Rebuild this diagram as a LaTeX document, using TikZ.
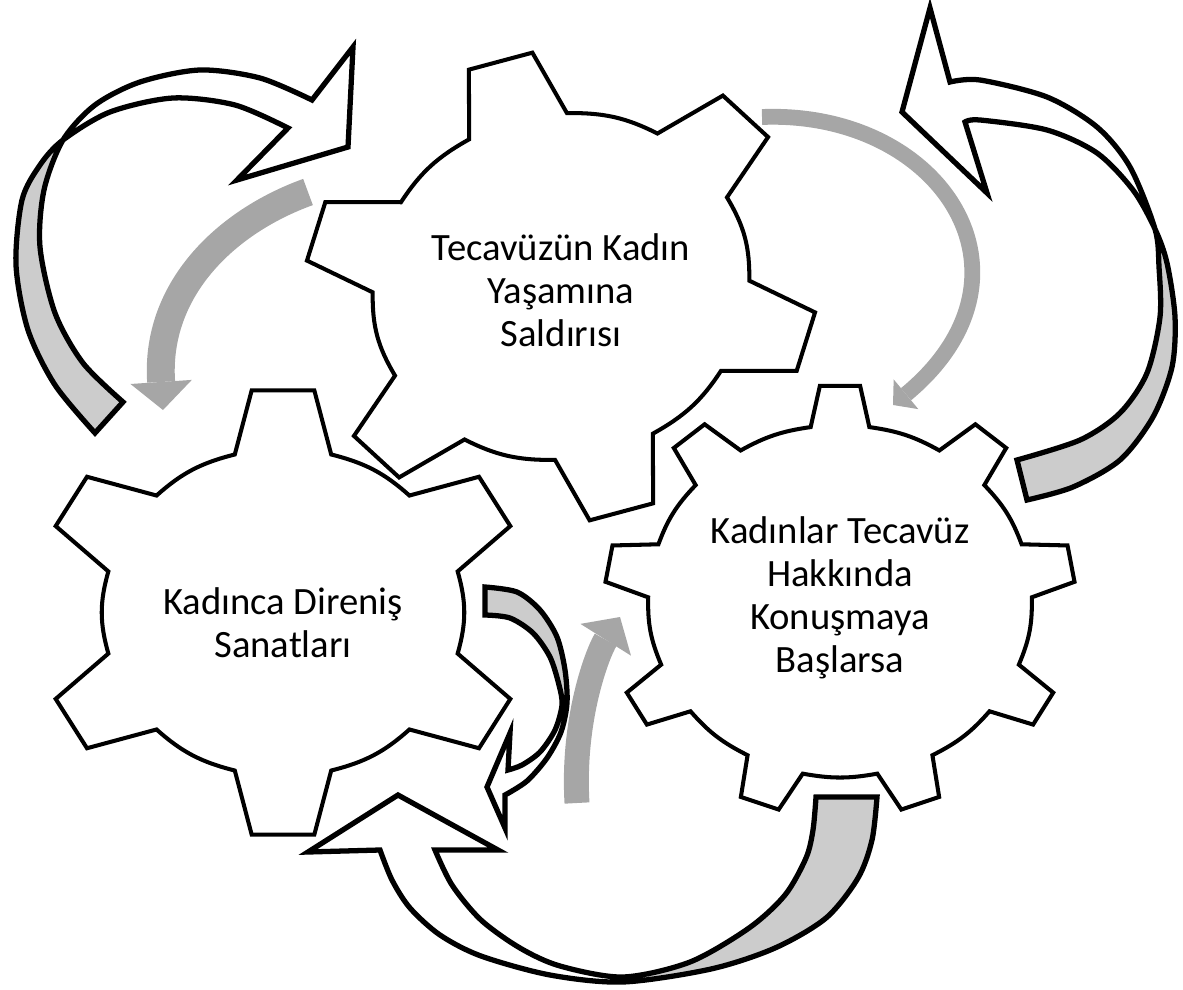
\documentclass[tikz,border=0pt]{standalone}
\usepackage{fontspec}
\setmainfont{Carlito}
\usetikzlibrary{arrows.meta}
\definecolor{facegray}{RGB}{204,204,204}
\definecolor{flowgray}{RGB}{166,166,166}

\begin{document}
\begin{tikzpicture}[
    x=0.02cm, y=-0.02cm,
    gear/.style={
        draw=black, fill=white, line width=2.3pt
    },
    twist/.style={
        draw=black, fill=white, line width=3pt,
        path picture={\fill[facegray] #1;}
    },
    flow/.style={
        draw=flowgray, line width=#1
    },
    l/.style={
        align=center, font=\fontsize{22}{24.5}\selectfont
    }
]
    \useasboundingbox (0,0) rectangle (1183,990);

    \coordinate (attackc) at (561,286.5);
    \coordinate (resistc) at (283,612.5);
    \coordinate (speakc) at (840,601);

    % six teeth, left
    \begin{scope}[shift={(resistc)}, xscale=1.1]
        \draw[gear] (-74.5:164) \foreach \t in {90,150,...,390} {
            -- ({-(\t-15.5)}:164) -- ({-(\t-7.3)}:224) -- ({-(\t+7.3)}:224)
            -- ({-(\t+15.5)}:164) to[bend right=14.5] ({-(\t+44.5)}:164)
        } -- cycle;
    \end{scope}
    % six teeth, top, turned
    \begin{scope}[shift={(attackc)}, rotate=15, scale=1.05, xscale=1.1]
        \draw[gear] (-74.5:164) \foreach \t in {90,150,...,390} {
            -- ({-(\t-15.5)}:164) -- ({-(\t-7.3)}:224) -- ({-(\t+7.3)}:224)
            -- ({-(\t+15.5)}:164) to[bend right=14.5] ({-(\t+44.5)}:164)
        } -- cycle;
    \end{scope}
    % nine teeth, right
    \begin{scope}[shift={(speakc)}, xscale=1.09]
        \draw[gear] (-81.2:176) \foreach \t in {90,130,...,410} {
            -- ({-(\t-8.8)}:176) -- ({-(\t-4.9)}:216) -- ({-(\t+4.9)}:216)
            -- ({-(\t+8.8)}:176) to[bend right=11.2] ({-(\t+31.2)}:176)
        } -- cycle;
    \end{scope}

    \node[l] (attack) at (561,290) {Tecavüzün Kadın\\Yaşamına\\Saldırısı};
    \node[l] (resist) at (283,623) {Kadınca Direniş\\Sanatları};
    \node[l] (speak) at (840,598) {Kadınlar Tecavüz\\Hakkında\\Konuşmaya\\Başlarsa};

    % twisted arrows
    \draw[twist={(0,77) -- (400,477) -- (0,477) -- cycle}]
        plot[smooth] coordinates {(123,402) (83,363) (55,313) (40,247) (44,190) (63,140) (95,105) (140,82) (200,70) (260,78) (312,100)}
        -- (353,47) -- (348,147) -- (237,180) -- (288,128)
        -- plot[smooth] coordinates {(288,128) (235,105) (173,98) (110,112) (63,140) (40,165) (22,200) (16,265) (28,330) (55,385) (95,433)}
        -- cycle;

    \draw[twist={(900,332) -- (1183,219) -- (1183,520) -- (900,520) -- cycle}]
        plot[smooth] coordinates {(950,82) (980,80) (1047,97) (1097,127) (1130,167) (1155,229) (1159,267) (1160,317) (1147,373) (1120,413) (1080,440) (1017,460)}
        -- plot[smooth] coordinates {(1027,500) (1073,487) (1120,460) (1153,417) (1172,367) (1175,317) (1167,263) (1155,229) (1133,190) (1097,153) (1047,130) (980,120) (965,122)}
        -- (987,193) -- (902,112) -- (930,8) -- cycle;

    \draw[twist={(623,780) rectangle (900,990)}]
        plot[smooth] coordinates {(380,850) (392,880) (410,908) (440,935) (481,956) (550,975) (623,982) (711,969) (775,948) (826,918) (858,878) (872,840) (877,797)}
        -- plot[smooth] coordinates {(816,797) (813,830) (806,858) (785,895) (749,928) (690,962) (623,977) (560,966) (520,948) (481,920) (452,885) (435,850)}
        -- (498,850) -- (398,795) -- (308,852) -- cycle;

    \draw[twist={(470,570) rectangle (580,702)}]
        plot[smooth] coordinates {(485,615) (510,618) (533,633) (550,657) (559,685) (562,705) (555,730) (540,752) (522,765) (508,770)}
        -- (510,733) -- (487,787) -- (505,828)
        -- plot[smooth] coordinates {(505,795) (527,781) (547,758) (561,732) (567,703) (565,670) (557,637) (540,610) (517,592) (485,587)}
        -- cycle;

    % grey flows
    \coordinate (flowAs) at (308,192);
    \coordinate (flowAe) at (163,410);
    \coordinate (flowBs) at (762,117);
    \coordinate (flowBe) at (893,405);
    \coordinate (flowCs) at (577,803);
    \coordinate (flowCe) at (620,617);

    \draw[flow=15.9pt, -{Triangle[width=35pt, length=16pt, line width=0pt]}]
        (flowAs) .. controls (225,222) and (155,290) .. (flowAe);
    \draw[flow=9pt, -{Triangle[width=22pt, length=9.6pt, line width=0pt]}]
        (flowBs) .. controls (940,110) and (1050,275) .. (flowBe);
    \draw[flow=14.2pt, -{Triangle[width=34pt, length=15.3pt, line width=0pt]}]
        (flowCs) .. controls (572,718) and (598,652) .. (flowCe);

\end{tikzpicture}
\end{document}
